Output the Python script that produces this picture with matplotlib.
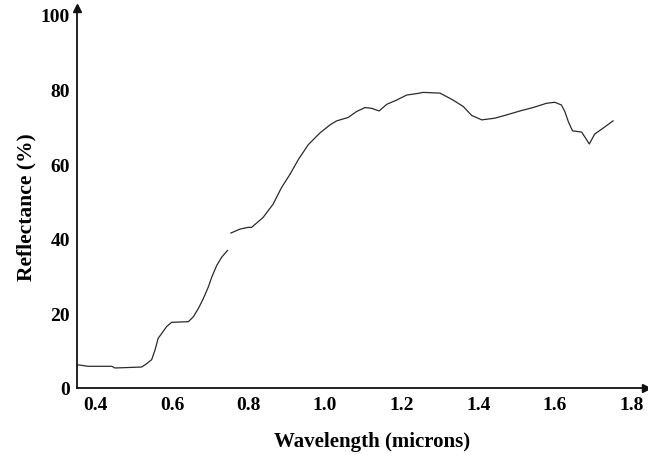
import matplotlib
matplotlib.use("Agg")
import matplotlib.pyplot as plt
import numpy as np

# Data (wavelength in microns, reflectance in %)
wl_seg1 = [0.351, 0.381, 0.443, 0.451, 0.521, 0.534, 0.547, 0.556, 0.564, 0.575,
           0.586, 0.599, 0.643, 0.656, 0.669, 0.682, 0.695, 0.704, 0.717, 0.730, 0.745]
refl_seg1 = [6.26, 5.81, 5.81, 5.36, 5.62, 6.53, 7.59, 10.25, 13.33, 14.85,
             16.45, 17.59, 17.77, 19.1, 21.31, 23.97, 27.08, 29.74, 32.85, 35.06, 36.84]

wl_seg2 = [0.754, 0.778, 0.799, 0.808, 0.838, 0.864, 0.886, 0.908, 0.930, 0.956,
           0.986, 1.013, 1.030, 1.060, 1.082, 1.104, 1.121, 1.141, 1.161, 1.187,
           1.213, 1.243, 1.256, 1.300, 1.334, 1.361, 1.383, 1.409, 1.443, 1.474,
           1.509, 1.543, 1.578, 1.600, 1.617, 1.626, 1.635, 1.646, 1.670, 1.690,
           1.704, 1.726, 1.752]
refl_seg2 = [41.52, 42.58, 43.03, 43.03, 45.69, 49.23, 53.67, 57.21, 61.19, 65.18,
             68.29, 70.5, 71.56, 72.47, 74.06, 75.13, 74.94, 74.22, 76.0, 77.15,
             78.48, 78.93, 79.19, 79.0, 77.15, 75.39, 73.0, 71.83, 72.28, 73.16,
             74.22, 75.13, 76.27, 76.54, 75.82, 74.06, 71.4, 68.9, 68.56, 65.37,
             68.03, 69.62, 71.56]

x_ticks = [0.4, 0.6, 0.8, 1.0, 1.2, 1.4, 1.6, 1.8]
x_tick_labels = ["0.4", "0.6", "0.8", "1.0", "1.2", "1.4", "1.6", "1.8"]
y_ticks = [0, 20, 40, 60, 80, 100]
y_tick_labels = ["0", "20", "40", "60", "80", "100"]

W, H = 648, 456
fig = plt.figure(figsize=(W / 100, H / 100), dpi=100)
left, right, top, bottom = 77, 646, 9, 389
ax = fig.add_axes([left / W, (H - bottom) / H, (right - left) / W, (bottom - top) / H])

font = dict(family="Liberation Serif", weight="bold")

ax.plot(wl_seg1, refl_seg1, color="#2a2a2a", lw=0.9)
ax.plot(wl_seg2, refl_seg2, color="#2a2a2a", lw=0.9)

ax.set_xlim(0.352, 1.838)
ax.set_ylim(0.76, 101.8)

for s in ["top", "right"]:
    ax.spines[s].set_visible(False)
for s in ["left", "bottom"]:
    ax.spines[s].set_linewidth(1.3)
    ax.spines[s].set_color("#111111")

ax.set_xticks(x_ticks)
ax.set_xticklabels(x_tick_labels, **font, fontsize=14)
ax.set_yticks(y_ticks)
ax.set_yticklabels(y_tick_labels, **font, fontsize=14)
ax.tick_params(axis="both", length=0)
ax.tick_params(axis="x", pad=6)
ax.tick_params(axis="y", pad=5)

# arrow heads at axis ends
ax.plot(1, 0, ">", color="#111111", ms=5.5, transform=ax.transAxes, clip_on=False)
ax.plot(0, 1, "^", color="#111111", ms=5.5, transform=ax.transAxes, clip_on=False)

fig.text(26 / W, 1 - 207.5 / H, "Reflectance (%)", rotation=90, ha="center", va="center",
         fontsize=15.5, **font)
fig.text(372 / W, 1 - 442 / H, "Wavelength (microns)", ha="center", va="center",
         fontsize=15, **font)

fig.savefig("out.png", dpi=100)
